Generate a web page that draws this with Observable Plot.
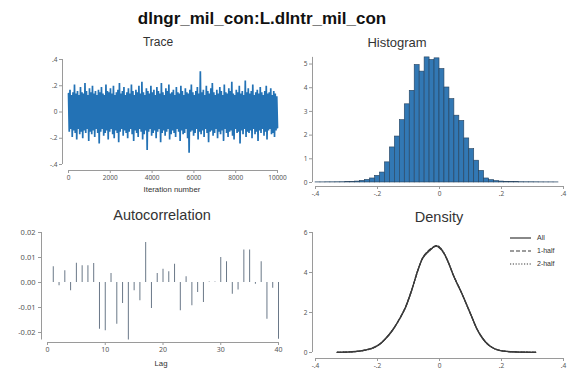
<!DOCTYPE html>
<html>
<head>
<meta charset="utf-8">
<script src="https://cdn.jsdelivr.net/npm/d3@7"></script>
<script src="https://cdn.jsdelivr.net/npm/@observablehq/plot@0.6"></script>
<style>
  body { margin: 0; background: #fff; font-family: "Liberation Sans", Arial, sans-serif; }
  #fig { position: relative; width: 577px; height: 379px; overflow: hidden; background: #fff; }
  .panel { position: absolute; }
  .txt { position: absolute; transform: translate(-50%, -50%); white-space: nowrap; color: #333; line-height: 1; }
  .legend { position: absolute; font-size: 7px; color: #333; line-height: 1; }
  .legend div { display: flex; align-items: center; height: 13px; }
  .legend svg { margin-right: 6px; }
</style>
</head>
<body>
<div id="fig"></div>
<script>
// ---- MCMC draws of the coefficient (alternating local highs / lows along the chain)
const nIter = 10000;
const traceHi = [
  0.14,0.17,0.13,0.15,0.21,0.14,0.16,0.13,0.19,0.15,
  0.14,0.22,0.16,0.13,0.18,0.15,0.20,0.14,0.16,0.13,
  0.17,0.15,0.19,0.14,0.13,0.21,0.16,0.15,0.18,0.14,
  0.20,0.13,0.15,0.17,0.22,0.14,0.16,0.19,0.13,0.15,
  0.18,0.14,0.21,0.16,0.13,0.17,0.15,0.20,0.14,0.23,
  0.15,0.13,0.18,0.16,0.14,0.20,0.15,0.17,0.13,0.19,
  0.16,0.14,0.22,0.15,0.13,0.18,0.16,0.21,0.14,0.15,
  0.17,0.13,0.19,0.15,0.14,0.20,0.16,0.13,0.18,0.15,
  0.14,0.17,0.21,0.15,0.13,0.16,0.19,0.14,0.31,0.15,
  0.17,0.13,0.20,0.16,0.14,0.18,0.22,0.15,0.13,0.17,
  0.14,0.19,0.16,0.13,0.21,0.15,0.14,0.18,0.16,0.23,
  0.14,0.13,0.17,0.15,0.20,0.14,0.16,0.13,0.24,0.15,
  0.18,0.14,0.16,0.21,0.13,0.15,0.17,0.14,0.19,0.15,
  0.13,0.16,0.20,0.14,0.15,0.18,0.13,0.16,0.14,0.12
];
const traceLo = [
  -0.15,-0.13,-0.19,-0.14,-0.16,-0.21,-0.13,-0.17,-0.15,-0.20,
  -0.14,-0.16,-0.13,-0.22,-0.15,-0.17,-0.14,-0.19,-0.13,-0.16,
  -0.24,-0.15,-0.13,-0.18,-0.16,-0.14,-0.21,-0.15,-0.13,-0.17,
  -0.20,-0.14,-0.16,-0.23,-0.15,-0.13,-0.18,-0.14,-0.16,-0.20,
  -0.15,-0.13,-0.17,-0.22,-0.14,-0.16,-0.19,-0.13,-0.15,-0.21,
  -0.17,-0.14,-0.29,-0.15,-0.13,-0.18,-0.16,-0.14,-0.20,-0.15,
  -0.13,-0.23,-0.16,-0.14,-0.18,-0.15,-0.13,-0.21,-0.17,-0.14,
  -0.16,-0.19,-0.13,-0.15,-0.22,-0.14,-0.17,-0.16,-0.13,-0.20,
  -0.31,-0.15,-0.14,-0.18,-0.16,-0.13,-0.21,-0.15,-0.17,-0.14,
  -0.19,-0.13,-0.16,-0.23,-0.15,-0.14,-0.18,-0.16,-0.13,-0.20,
  -0.15,-0.17,-0.14,-0.22,-0.13,-0.16,-0.19,-0.15,-0.14,-0.18,
  -0.21,-0.13,-0.16,-0.15,-0.24,-0.14,-0.17,-0.13,-0.19,-0.15,
  -0.16,-0.14,-0.20,-0.13,-0.17,-0.15,-0.22,-0.14,-0.16,-0.13,
  -0.18,-0.15,-0.21,-0.14,-0.13,-0.17,-0.16,-0.19,-0.14,-0.12
];
const traceXTicks = [0, 2000, 4000, 6000, 8000, 10000];
const traceYTicks = [-0.4, -0.2, 0, 0.2, 0.4];
const traceYLabels = ["-.4", "-.2", "0", ".2", ".4"];

// ---- Histogram of the draws (bin edges and density heights)
const histEdges = [
  -0.400,-0.384,-0.368,-0.352,-0.336,-0.320,-0.304,-0.288,-0.272,-0.256,
  -0.240,-0.224,-0.208,-0.192,-0.176,-0.160,-0.144,-0.128,-0.112,-0.096,
  -0.080,-0.064,-0.048,-0.032,-0.016, 0.000, 0.016, 0.032, 0.048, 0.064,
   0.080, 0.096, 0.112, 0.128, 0.144, 0.160, 0.176, 0.192, 0.208, 0.224,
   0.240, 0.256, 0.272, 0.288, 0.304, 0.320, 0.336, 0.352, 0.368, 0.384
];
const histDensity = [
  0.005,0.005,0.008,0.008,0.010,0.012,0.015,0.020,
  0.04,0.07,0.11,0.17,0.28,0.42,
  0.85,1.48,1.94,2.63,3.30,3.87,
  4.96,4.68,5.28,5.17,5.24,4.79,
  4.01,3.52,2.82,2.60,1.86,1.41,
  0.92,0.49,0.17,0.10,0.06,
  0.04,0.03,0.02,0.015,0.012,0.010,0.010,0.008,0.006,0.005,0.005,0.004
];
const histYTicks = [0, 1, 2, 3, 4, 5];
const paramXTicks = [-0.4, -0.2, 0, 0.2, 0.4];
const paramXLabels = ["-.4", "-.2", "0", ".2", ".4"];

// ---- Autocorrelation by lag
const acLags = [
   1, 2, 3, 4, 5, 6, 7, 8, 9,10,
  11,12,13,14,15,16,17,18,19,20,
  21,22,23,24,25,26,27,28,29,30,
  31,32,33,34,35,36,37,38,39,40
];
const acValues = [
   0.0063,-0.0013, 0.0047,-0.0033, 0.0077, 0.0067, 0.0067, 0.0076,-0.0187,-0.0193,
   0.0036,-0.0167,-0.0084,-0.0230,-0.0033,-0.0073, 0.0160,-0.0104, 0.0036, 0.0053,
   0.0043, 0.0073,-0.0113, 0.0023,-0.0093,-0.0040,-0.0080, 0.0002, 0.0002, 0.0100,
   0.0083,-0.0047,-0.0030, 0.0130, 0.0130,-0.0007, 0.0083,-0.0147,-0.0023,-0.0227
];
const acXTicks = [0, 10, 20, 30, 40];
const acYTicks = [-0.02, -0.01, 0, 0.01, 0.02];
const acYLabels = ["-0.02", "-0.01", "0.00", "0.01", "0.02"];

// ---- Kernel density: all draws, first half, second half
const densX = [
  -0.33,-0.30,-0.27,-0.24,-0.21,-0.19,-0.17,-0.15,-0.13,-0.11,
  -0.09,-0.07,-0.055,-0.04,-0.025,-0.012,0.0,0.015,0.03,0.045,
   0.06,0.075,0.09,0.105,0.12,0.135,0.15,0.17,0.19,0.22,0.26,0.31
];
const densAll = [
  0.01,0.02,0.05,0.12,0.26,0.45,0.76,1.15,1.65,2.25,
  3.10,4.10,4.70,5.00,5.20,5.33,5.25,4.95,4.45,3.85,
  3.35,2.85,2.30,1.75,1.20,0.80,0.50,0.25,0.12,0.05,0.02,0.01
];
const densHalf1 = [
  0.01,0.02,0.05,0.13,0.27,0.46,0.75,1.14,1.66,2.27,
  3.12,4.08,4.72,5.03,5.22,5.31,5.22,4.93,4.44,3.86,
  3.36,2.84,2.29,1.74,1.21,0.81,0.50,0.25,0.12,0.05,0.02,0.01
];
const densHalf2 = [
  0.01,0.02,0.05,0.11,0.25,0.44,0.77,1.16,1.64,2.23,
  3.08,4.12,4.68,4.97,5.18,5.35,5.28,4.97,4.46,3.84,
  3.34,2.86,2.31,1.76,1.19,0.79,0.50,0.25,0.12,0.05,0.02,0.01
];
const densYTicks = [0, 2, 4, 6];
const legendLabels = ["All", "1-half", "2-half"];
const legendDash = [null, "4,2", "1.2,1.6"];

// ---- Styling
const blue = "#2372b5";
const axisGray = "#9a9a9a";
const labelColor = "#555";
const lineDark = "#3a3a3a";
const tickStyle = {tickSize: 3, tickPadding: 2, fontSize: 6.5, stroke: axisGray, fill: labelColor, label: null};

const fig = document.getElementById("fig");
function place(node, left, top) {
  node.classList.add("panel");
  node.style.left = left + "px";
  node.style.top = top + "px";
  fig.appendChild(node);
}
function text(str, x, y, size, extra = {}) {
  const d = document.createElement("div");
  d.className = "txt";
  d.textContent = str;
  d.style.left = x + "px";
  d.style.top = y + "px";
  d.style.fontSize = size + "px";
  Object.assign(d.style, extra);
  fig.appendChild(d);
}
const fmtFrom = (ticks, labels) => d => labels[ticks.findIndex(t => Math.abs(t - d) < 1e-9)];

// ---- Trace
const traceRows = [];
traceHi.forEach((h, i) => {
  traceRows.push({value: h});
  traceRows.push({value: traceLo[i]});
});
traceRows.forEach((r, i) => { r.iter = i * nIter / (traceRows.length - 1); });

place(Plot.plot({
  width: 290, height: 150,
  marginLeft: 62, marginRight: 13, marginTop: 9, marginBottom: 30,
  x: {domain: [0, nIter], insetLeft: 6},
  y: {domain: [-0.4, 0.4], insetBottom: 6},
  marks: [
    Plot.line(traceRows, {x: "iter", y: "value", stroke: blue, strokeWidth: 1.7, strokeLinejoin: "miter"}),
    Plot.ruleX([0], {y1: d3.min(traceYTicks), y2: d3.max(traceYTicks), dx: -6, stroke: axisGray}),
    Plot.ruleY([d3.min(traceYTicks)], {x1: d3.min(traceXTicks), x2: d3.max(traceXTicks), dy: 6, stroke: axisGray}),
    Plot.axisY(traceYTicks, {...tickStyle, tickFormat: fmtFrom(traceYTicks, traceYLabels)}),
    Plot.axisX(traceXTicks, {...tickStyle, tickFormat: d => String(d)})
  ]
}), 0, 50);

// ---- Histogram
const histRows = histDensity.map((h, i) => ({x1: histEdges[i], x2: histEdges[i + 1], h}));
const histTop = Math.max(d3.max(histDensity), d3.max(histYTicks));
place(Plot.plot({
  width: 287, height: 155,
  marginLeft: 22, marginRight: 14, marginTop: 6.9, marginBottom: 19,
  x: {domain: [-0.4, 0.4], insetLeft: 3},
  y: {domain: [0, histTop], insetBottom: 4},
  marks: [
    Plot.rectY(histRows, {x1: "x1", x2: "x2", y: "h", fill: "#3278b4", stroke: "#26415c", strokeWidth: 0.6}),
    Plot.ruleX([-0.4], {y1: 0, y2: histTop, dx: -3, stroke: axisGray}),
    Plot.ruleY([0], {x1: -0.4, x2: 0.4, dy: 4, stroke: axisGray}),
    Plot.axisY(histYTicks, {...tickStyle, tickFormat: d => String(d)}),
    Plot.axisX(paramXTicks, {...tickStyle, tickFormat: fmtFrom(paramXTicks, paramXLabels)})
  ]
}), 290, 50);

// ---- Autocorrelation
const acRows = acLags.map((lag, i) => ({lag, ac: acValues[i]}));
const acLo = Math.min(d3.min(acValues), d3.min(acYTicks));
const acHi = Math.max(d3.max(acValues), d3.max(acYTicks));
place(Plot.plot({
  width: 290, height: 179,
  marginLeft: 41, marginRight: 12, marginTop: 32, marginBottom: 37,
  x: {domain: [0, 40], insetLeft: 6},
  y: {domain: [acLo, acHi], insetBottom: 2.5},
  marks: [
    Plot.ruleX(acRows, {x: "lag", y1: 0, y2: "ac", stroke: "#6a7888", strokeWidth: 1}),
    Plot.ruleX([0], {y1: acLo, y2: acHi, dx: -6, stroke: axisGray}),
    Plot.ruleY([acLo], {x1: 0, x2: 40, dy: 2.5, stroke: axisGray}),
    Plot.axisY(acYTicks, {...tickStyle, fontSize: 7.5, tickPadding: 3, tickFormat: fmtFrom(acYTicks, acYLabels)}),
    Plot.axisX(acXTicks, {...tickStyle, fontSize: 7, tickFormat: d => String(d)})
  ]
}), 0, 200);

// ---- Density
const densRows = (vals, series) => densX.map((x, i) => ({x, y: vals[i], series}));
place(Plot.plot({
  width: 287, height: 179,
  marginLeft: 22, marginRight: 14, marginTop: 32, marginBottom: 21,
  x: {domain: [-0.4, 0.4], insetLeft: 3},
  y: {domain: [0, 6], insetBottom: 6},
  marks: [
    Plot.line(densRows(densHalf2, "2-half"), {x: "x", y: "y", stroke: lineDark, strokeWidth: 1.2, strokeDasharray: legendDash[2], curve: "monotone-x"}),
    Plot.line(densRows(densHalf1, "1-half"), {x: "x", y: "y", stroke: lineDark, strokeWidth: 1.2, strokeDasharray: legendDash[1], curve: "monotone-x"}),
    Plot.line(densRows(densAll, "All"), {x: "x", y: "y", stroke: lineDark, strokeWidth: 1.4, curve: "monotone-x"}),
    Plot.ruleX([-0.4], {y1: 0, y2: 6, dx: -3, stroke: axisGray}),
    Plot.ruleY([0], {x1: -0.4, x2: 0.4, dy: 6, stroke: axisGray}),
    Plot.axisY(densYTicks, {...tickStyle, tickFormat: d => String(d)}),
    Plot.axisX(paramXTicks, {...tickStyle, tickFormat: fmtFrom(paramXTicks, paramXLabels)})
  ]
}), 290, 200);

// ---- Legend for the density panel
const leg = document.createElement("div");
leg.className = "legend";
leg.style.left = "510px";
leg.style.top = "231px";
legendLabels.forEach((lab, i) => {
  const row = document.createElement("div");
  const dash = legendDash[i] ? ` stroke-dasharray="${legendDash[i]}"` : "";
  row.innerHTML = `<svg width="21" height="4"><line x1="0" y1="2" x2="21" y2="2" stroke="${lineDark}" stroke-width="1.2"${dash}/></svg><span>${lab}</span>`;
  leg.appendChild(row);
});
fig.appendChild(leg);

// ---- Titles
text("dlngr_mil_con:L.dlntr_mil_con", 262, 18, 17, {fontWeight: "bold", color: "#111"});
text("Trace", 158, 42, 12);
text("Histogram", 397, 42, 13);
text("Autocorrelation", 162, 215, 14.5);
text("Density", 439, 217, 14.5);
text("Iteration number", 172, 190, 7.8);
text("Lag", 161, 364, 7.8);
</script>
</body>
</html>
